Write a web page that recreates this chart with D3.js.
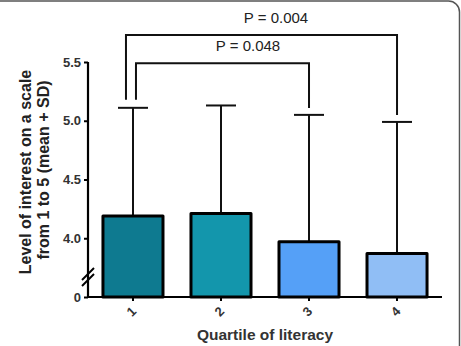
<!DOCTYPE html>
<html>
<head>
<meta charset="utf-8">
<script src="https://cdn.jsdelivr.net/npm/d3@7"></script>
<style>
  body { margin: 0; background: #fff; }
  text { font-family: "Liberation Sans", Arial, sans-serif; }
</style>
</head>
<body>
<div class="chart"></div>
<script>
// data
const quartiles = ["1", "2", "3", "4"];
const means = [4.19, 4.21, 3.97, 3.87];
const sds = [0.92, 0.92, 1.08, 1.12];
const barColors = ["#0e7a90", "#1396ac", "#55a0f7", "#90bef5"];
const yTicks = [3.5, 4.0, 4.5, 5.0, 5.5];
const yTickLabels = ["0", "4.0", "4.5", "5.0", "5.5"];
// significance brackets: [left group, right group, top value, label]
const brackets = [
    ["1", "4", 5.73, "P = 0.004"],
    ["1", "3", 5.49, "P = 0.048"]
];

const svgW = 461;
const svgH = 346;
const plotL = 88, plotR = 442, plotB = 297, plotT = 62;

const svg = d3.select(".chart")
    .append("svg")
    .attr("width", svgW)
    .attr("height", svgH);

// frame
svg.append("rect")
    .attr("x", -12).attr("y", 1)
    .attr("width", 471.5).attr("height", 380)
    .attr("rx", 11)
    .attr("fill", "none")
    .attr("stroke", "#555")
    .attr("stroke-width", 1.5);

const x = d3.scaleBand()
    .domain(quartiles)
    .range([plotL, plotR])
    .paddingInner(0.318)
    .paddingOuter(0.17);

const y = d3.scaleLinear()
    .domain([3.5, 5.5])
    .range([plotB, plotT]);

// error bars
const eb = svg.append("g")
    .attr("stroke", "#111")
    .attr("stroke-width", 2);

quartiles.forEach((q, i) => {
    const cx = x(q) + x.bandwidth() / 2;
    eb.append("line")
        .attr("x1", cx).attr("x2", cx)
        .attr("y1", y(means[i])).attr("y2", y(means[i] + sds[i]));
    eb.append("line")
        .attr("x1", cx - 15).attr("x2", cx + 15)
        .attr("y1", y(means[i] + sds[i])).attr("y2", y(means[i] + sds[i]));
});

// bars
svg.selectAll(".bar")
    .data(quartiles)
    .enter()
    .append("rect")
    .attr("class", "bar")
    .attr("x", d => x(d))
    .attr("y", (d, i) => y(means[i]))
    .attr("width", x.bandwidth())
    .attr("height", (d, i) => plotB - y(means[i]))
    .attr("fill", (d, i) => barColors[i])
    .attr("stroke", "#000")
    .attr("stroke-width", 3)
    .attr("stroke-linejoin", "round");

// y axis
const yAxis = svg.append("g")
    .attr("transform", `translate(${plotL},0)`)
    .call(d3.axisLeft(y)
        .tickValues(yTicks)
        .tickFormat((d, i) => yTickLabels[i])
        .tickSize(4)
        .tickPadding(3));

// x axis
const xAxis = svg.append("g")
    .attr("transform", `translate(0,${plotB})`)
    .call(d3.axisBottom(x).tickSize(4).tickSizeOuter(0));

[yAxis, xAxis].forEach(a => {
    a.select(".domain").attr("stroke", "#000").attr("stroke-width", 2.2);
    a.selectAll(".tick line").attr("stroke", "#000").attr("stroke-width", 2);
    a.selectAll(".tick text")
        .attr("fill", "#333")
        .style("font-size", "13px")
        .style("font-weight", "bold");
});
yAxis.select(".domain").attr("d", `M0,${plotT}V${plotB + 1}`);
xAxis.select(".domain").attr("d", `M${plotL - 1},0H${plotR}`);

xAxis.selectAll(".tick text")
    .attr("y", 0)
    .attr("dy", "0.35em")
    .attr("text-anchor", "end")
    .attr("transform", "translate(1,12) rotate(-45)");

// axis break marks
const brk = svg.append("g")
    .attr("stroke", "#000")
    .attr("stroke-width", 2);
[0, 6].forEach(off => {
    brk.append("line")
        .attr("x1", plotL - 6).attr("y1", 280 + off)
        .attr("x2", plotL + 6).attr("y2", 268 + off);
});

// significance brackets
const capTop = q => y(means[quartiles.indexOf(q)] + sds[quartiles.indexOf(q)]);
const leftOffsets = [-7, 3];
const textX = [276, 248];
brackets.forEach((b, i) => {
    const x1 = x(b[0]) + x.bandwidth() / 2 + leftOffsets[i];
    const x2 = x(b[1]) + x.bandwidth() / 2;
    const yt = y(b[2]);
    svg.append("path")
        .attr("d", `M${x1},${capTop(b[0]) - 8}V${yt}H${x2}V${capTop(b[1]) - 7}`)
        .attr("fill", "none")
        .attr("stroke", "#111")
        .attr("stroke-width", 2);
    svg.append("text")
        .attr("x", textX[i])
        .attr("y", yt - 12)
        .attr("text-anchor", "middle")
        .style("font-size", "15px")
        .style("fill", "#222")
        .text(b[3]);
});

// axis titles
svg.append("text")
    .attr("transform", "translate(31,172) rotate(-90)")
    .attr("text-anchor", "middle")
    .style("font-size", "16px")
    .style("font-weight", "bold")
    .style("fill", "#222")
    .text("Level of interest on a scale");

svg.append("text")
    .attr("transform", "translate(49,170) rotate(-90)")
    .attr("text-anchor", "middle")
    .style("font-size", "16px")
    .style("font-weight", "bold")
    .style("fill", "#222")
    .text("from 1 to 5 (mean + SD)");

svg.append("text")
    .attr("x", 265)
    .attr("y", 340)
    .attr("text-anchor", "middle")
    .style("font-size", "15.5px")
    .style("font-weight", "bold")
    .style("fill", "#333")
    .text("Quartile of literacy");
</script>
</body>
</html>
